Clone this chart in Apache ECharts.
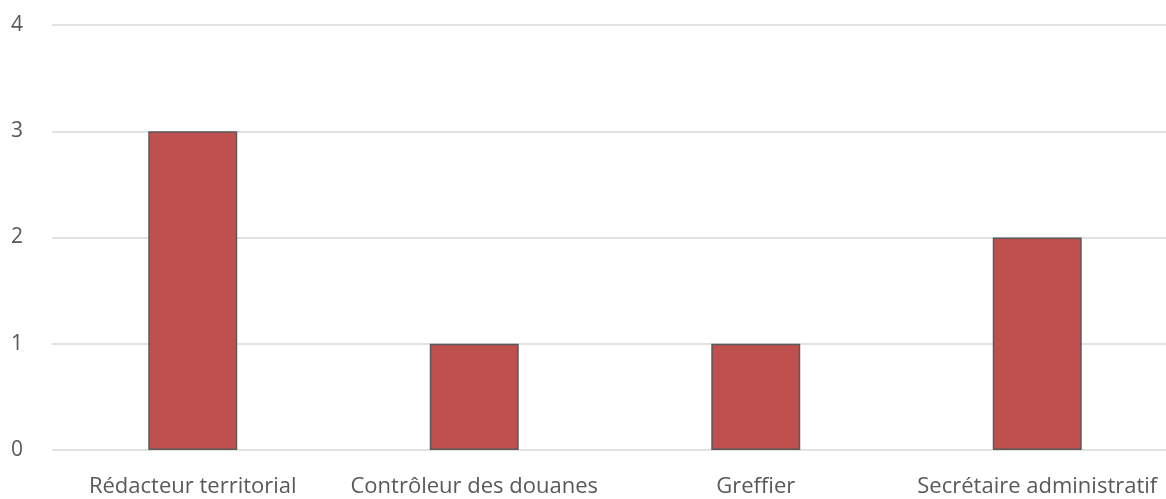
<!DOCTYPE html>
<html>
<head>
<meta charset="utf-8">
<script src="https://cdn.jsdelivr.net/npm/echarts@6/dist/echarts.min.js"></script>
<style>
  html, body { margin: 0; padding: 0; background: #ffffff; overflow: hidden; }
  #chart { width: 1178px; height: 499px; }
</style>
</head>
<body>
<div id="chart"></div>
<script>
  // données
  const categories = ['Rédacteur territorial', 'Contrôleur des douanes', 'Greffier', 'Secrétaire administratif'];
  const values = [3, 1, 1, 2];

  // le cadre du graphique dépasse un peu à droite de la fenêtre, comme dans l'original
  const chart = echarts.init(document.getElementById('chart'));
  const option = {
    animation: false,
    grid: { left: 52, right: 0, top: 25, bottom: 49, containLabel: false },
    xAxis: {
      type: 'category',
      data: categories,
      axisLine: { show: false },
      axisTick: { show: false },
      axisLabel: {
        color: '#595959',
        fontSize: 22,
        fontFamily: 'Open Sans',
        margin: 26,
        interval: 0
      }
    },
    yAxis: {
      type: 'value',
      min: 0,
      max: 4,
      interval: 1,
      axisLine: { show: false },
      axisTick: { show: false },
      axisLabel: {
        color: '#595959',
        fontSize: 21,
        fontFamily: 'Open Sans',
        align: 'left',
        margin: 41
      },
      splitLine: { lineStyle: { color: '#d9d9d9', width: 1.5 } }
    },
    series: [{
      type: 'bar',
      data: values,
      barWidth: '31.6%',
      itemStyle: { color: '#c0504d', borderColor: '#595959', borderWidth: 1.5 }
    }]
  };
  chart.setOption(option);
</script>
</body>
</html>
